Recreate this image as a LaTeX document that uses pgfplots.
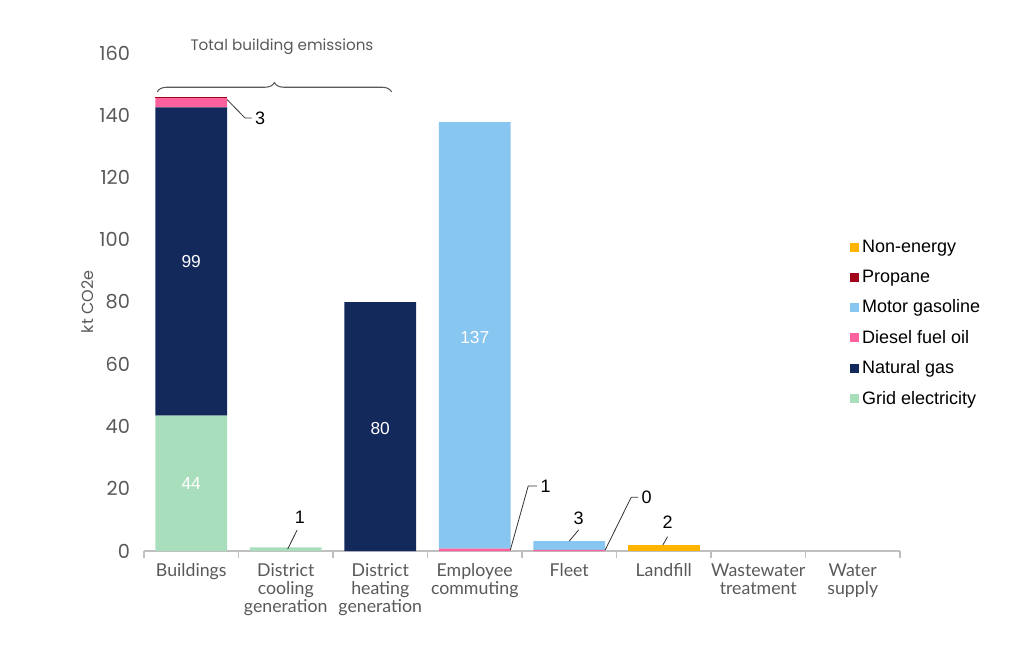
\documentclass[border=0pt]{standalone}
\usepackage{pgfplots}
\pgfplotsset{compat=1.18}
\usepackage{fontspec}
\setmainfont{Liberation Sans}
\newfontfamily\axfont{Lato}
\newfontfamily\numfont{Poppins}
\usetikzlibrary{decorations.pathreplacing}
\definecolor{cgrid}{HTML}{A9DEBC}
\definecolor{cng}{HTML}{13285B}
\definecolor{cdiesel}{HTML}{FF619E}
\definecolor{cgas}{HTML}{86C6F1}
\definecolor{cprop}{HTML}{A00018}
\definecolor{cnon}{HTML}{FFB400}
\definecolor{axgray}{HTML}{595959}
\definecolor{linegray}{HTML}{BFBFBF}
\begin{document}
\begin{tikzpicture}
\path[use as bounding box] (-108pt,-77.25pt) rectangle (664.5pt,413.25pt);
\begin{axis}[
  scale only axis, width=567pt, height=373.5pt,
  ybar stacked, bar width=0.76,
  xmin=-0.5, xmax=7.5, ymin=0, ymax=160,
  clip=false,
  axis lines*=left,
  y axis line style={draw=none},
  x axis line style={draw=linegray, line width=0.8pt},
  major tick length=0pt, minor tick length=5pt, tick align=outside,
  minor tick style={draw=linegray, line width=0.8pt},
  ytick={0,20,...,160},
  xtick={0,...,7},
  minor xtick={-0.5,0.5,...,7.5},
  xticklabels={Buildings,{District\\cooling\\generation},{District\\heating\\generation},{Employee\\commuting},Fleet,Landfill,{Wastewater\\treatment},{Water\\supply}},
  xticklabel style={align=center, font=\axfont\fontsize{13.3}{13.6}\selectfont, text=axgray, yshift=-6pt},
  /pgf/number format/assume math mode=true,
  yticklabel style={font=\numfont\fontsize{14.5}{16}\selectfont, text=axgray, xshift=-7pt},
  ylabel={kt CO2e},
  ylabel style={at={(axis description cs:-0.074,0.5)}, anchor=center, font=\numfont\fontsize{12}{14}\selectfont, text=axgray},
  legend image code/.code={\fill[#1] (0pt,-3.4pt) rectangle (6.8pt,3.4pt);},
  reverse legend,
  legend cell align=left,
  legend style={at={(rel axis cs:0.934,0.63)}, anchor=north west, draw=none, fill=none,
    font=\fontsize{13.5}{15}\selectfont, row sep=7.6pt, inner sep=0pt},
]
\addplot[fill=cgrid, draw=none] coordinates {(0,43.5) (1,1.2) (2,0) (3,0) (4,0) (5,0) (6,0) (7,0)};
\addlegendentry{Grid electricity}
\addplot[fill=cng, draw=none] coordinates {(0,99) (1,0) (2,80) (3,0) (4,0) (5,0) (6,0) (7,0)};
\addlegendentry{Natural gas}
\addplot[fill=cdiesel, draw=none] coordinates {(0,3) (1,0) (2,0) (3,0.8) (4,0.4) (5,0) (6,0) (7,0)};
\addlegendentry{Diesel fuel oil}
\addplot[fill=cgas, draw=none] coordinates {(0,0) (1,0) (2,0) (3,137) (4,2.8) (5,0) (6,0) (7,0)};
\addlegendentry{Motor gasoline}
\addplot[fill=cprop, draw=none] coordinates {(0,0.4) (1,0) (2,0) (3,0) (4,0) (5,0) (6,0) (7,0)};
\addlegendentry{Propane}
\addplot[fill=cnon, draw=none] coordinates {(0,0) (1,0) (2,0) (3,0) (4,0) (5,1.9) (6,0) (7,0)};
\addlegendentry{Non-energy}

\coordinate (w44) at (axis cs:0,21.7);
\coordinate (w99) at (axis cs:0,93);
\coordinate (w80) at (axis cs:2,39.5);
\coordinate (w137) at (axis cs:3,68.7);
\coordinate (a1) at (axis cs:0.38,145);
\coordinate (a2) at (axis cs:0.57,139.1);
\coordinate (a3) at (axis cs:0.64,139.1);
\coordinate (al) at (axis cs:0.66,139.1);
\coordinate (b1) at (axis cs:1.02,0.6);
\coordinate (b2) at (axis cs:1.12,6.7);
\coordinate (bl) at (axis cs:1.15,10.9);
\coordinate (c1) at (axis cs:3.376,0.3);
\coordinate (c2) at (axis cs:3.566,20.9);
\coordinate (c3) at (axis cs:3.66,20.9);
\coordinate (cl) at (axis cs:3.68,20.9);
\coordinate (d1) at (axis cs:4.0,3.2);
\coordinate (d2) at (axis cs:4.1,6.8);
\coordinate (dl) at (axis cs:4.1,10.6);
\coordinate (e1) at (axis cs:4.38,0.3);
\coordinate (e2) at (axis cs:4.656,17.3);
\coordinate (e3) at (axis cs:4.73,17.3);
\coordinate (el) at (axis cs:4.75,17.3);
\coordinate (f1) at (axis cs:4.99,1.9);
\coordinate (f2) at (axis cs:5.04,4.6);
\coordinate (fl) at (axis cs:5.04,9.3);
\coordinate (br1) at (axis cs:-0.36,147.5);
\coordinate (br2) at (axis cs:2.12,147.5);
\coordinate (tt) at (axis cs:0.96,161.9);
\end{axis}

\foreach \p/\t in {w44/44,w99/99,w80/80,w137/137}
  \node[text=white, font=\fontsize{13}{15}\selectfont] at (\p) {\t};

\draw[black!80, line width=0.6pt] (a1) -- (a2) -- (a3);
\node[anchor=west, inner sep=1pt, font=\fontsize{13.5}{15}\selectfont] at (al) {3};
\draw[black!80, line width=0.6pt] (b1) -- (b2);
\node[font=\fontsize{13.5}{15}\selectfont] at (bl) {1};
\draw[black!80, line width=0.6pt] (c1) -- (c2) -- (c3);
\node[anchor=west, inner sep=1pt, font=\fontsize{13.5}{15}\selectfont] at (cl) {1};
\draw[black!80, line width=0.6pt] (d1) -- (d2);
\node[font=\fontsize{13.5}{15}\selectfont] at (dl) {3};
\draw[black!80, line width=0.6pt] (e1) -- (e2) -- (e3);
\node[anchor=west, inner sep=1pt, font=\fontsize{13.5}{15}\selectfont] at (el) {0};
\draw[black!80, line width=0.6pt] (f1) -- (f2);
\node[font=\fontsize{13.5}{15}\selectfont] at (fl) {2};

\draw[axgray, line width=0.8pt, decorate, decoration={brace, amplitude=7pt, aspect=0.5}] (br1) -- (br2);
\node[text=axgray, font=\numfont\fontsize{11.4}{13}\selectfont] at (tt) {Total building emissions};
\end{tikzpicture}
\end{document}
